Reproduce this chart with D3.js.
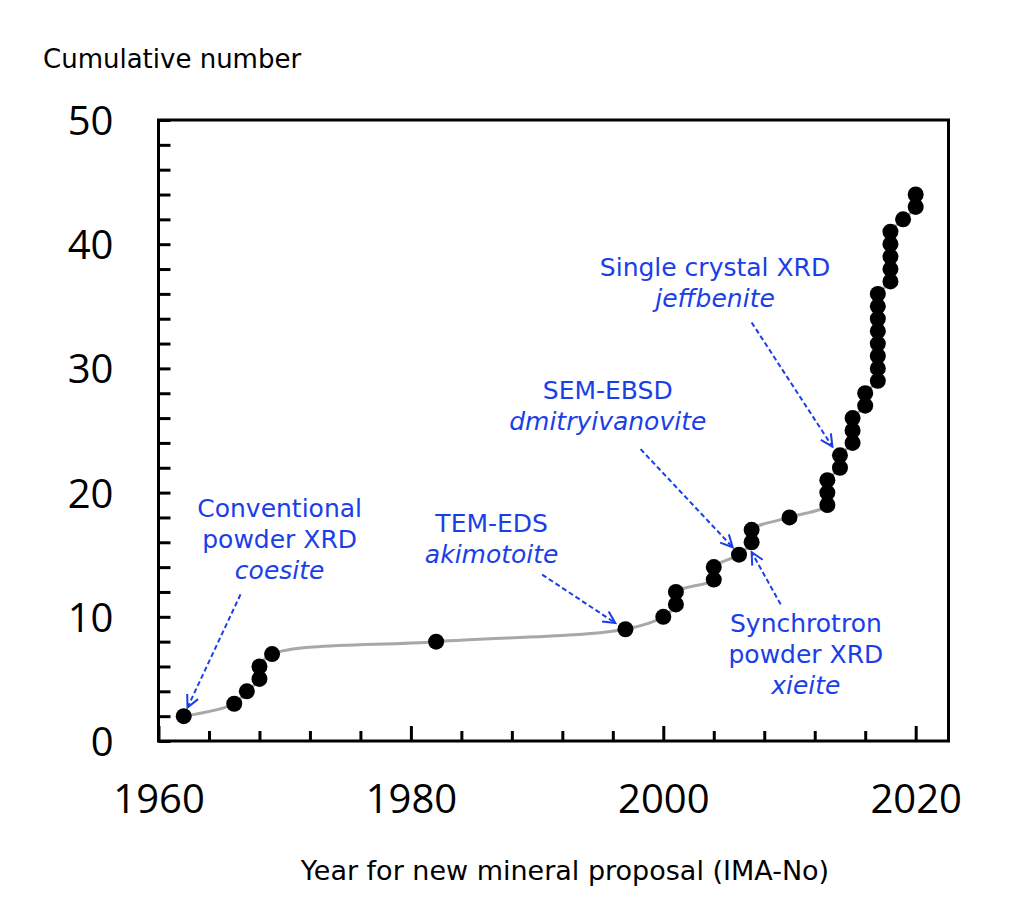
<!DOCTYPE html>
<html>
<head>
<meta charset="utf-8">
<script src="https://cdn.jsdelivr.net/npm/d3@7"></script>
<style>
  body { margin: 0; background: #fff; }
  svg { display: block; }
</style>
</head>
<body>
<svg id="chart" width="1016" height="921"></svg>
<script>
// one dot per new mineral, in order of IMA proposal year
var years = [1962, 1966, 1967, 1968, 1968, 1969, 1982, 1997, 2000, 2001, 2001,
  2004, 2004, 2006, 2007, 2007, 2010, 2013, 2013, 2013, 2014, 2014,
  2015, 2015, 2015, 2016, 2016,
  2017, 2017, 2017, 2017, 2017, 2017, 2017, 2017,
  2018, 2018, 2018, 2018, 2018, 2019, 2020, 2020];
var counts = [2, 3, 4, 5, 6, 7, 8, 9, 10, 11, 12,
  13, 14, 15, 16, 17, 18, 19, 20, 21, 22, 23,
  24, 25, 26, 27, 28,
  29, 30, 31, 32, 33, 34, 35, 36,
  37, 38, 39, 40, 41, 42, 43, 44];

var xMajor = [1960, 1980, 2000, 2020];
var xMinor = [1964, 1968, 1972, 1976, 1984, 1988, 1992, 1996, 2004, 2008, 2012, 2016];
var yMajor = [0, 10, 20, 30, 40, 50];
var yMinor = [2, 4, 6, 8, 12, 14, 16, 18, 22, 24, 26, 28, 32, 34, 36, 38, 42, 44, 46, 48];

// method labels: x = year, y = value of first baseline
var notes = [
  {x: 1969.6, y: 18.0, lines: ["Conventional", "powder XRD", "coesite"], from: [1966.5, 11.8], to: [1962.3, 2.7]},
  {x: 1986.4, y: 16.8, lines: ["TEM-EDS", "akimotoite"], from: [1990.4, 13.4], to: [1996.2, 9.5]},
  {x: 1995.6, y: 27.5, lines: ["SEM-EBSD", "dmitryivanovite"], from: [1998.2, 23.5], to: [2005.5, 15.6]},
  {x: 2004.1, y: 37.4, lines: ["Single crystal XRD", "jeffbenite"], from: [2007.0, 33.7], to: [2013.4, 23.7]},
  {x: 2011.3, y: 8.8, lines: ["Synchrotron", "powder XRD", "xieite"], from: [2009.3, 11.0], to: [2007.0, 15.2]}
];

var blue = "#1a3ee8";
var plotL = 158.5, plotR = 948.5, plotT = 120, plotB = 741;

var svg = d3.select("#chart");

var x = d3.scaleLinear().domain([1960, 2022.6]).range([plotL, plotR]);
var y = d3.scaleLinear().domain([0, 50]).range([plotB, plotT]);

var data = years.map(function (d, i) { return {year: d, n: counts[i]}; });

var line = d3.line()
  .x(function (d) { return x(d.year); })
  .y(function (d) { return y(d.n); })
  .curve(d3.curveCatmullRom.alpha(0.5));

svg.append("path")
  .datum(data)
  .attr("d", line)
  .attr("fill", "none")
  .attr("stroke", "#a8a8a8")
  .attr("stroke-width", 3);

svg.append("g").selectAll("circle")
  .data(data)
  .enter().append("circle")
  .attr("cx", function (d) { return x(d.year); })
  .attr("cy", function (d) { return y(d.n); })
  .attr("r", 8)
  .attr("fill", "#000");

// axes, ticks pointing inwards
var tickFont = "'Open Sans', 'Noto Sans', sans-serif";

var gx1 = svg.append("g").attr("transform", "translate(0," + plotB + ")")
  .call(d3.axisBottom(x).tickValues(xMinor).tickSize(-10).tickFormat(""));
var gx2 = svg.append("g").attr("transform", "translate(0," + plotB + ")")
  .call(d3.axisBottom(x).tickValues(xMajor).tickSize(-15).tickFormat(d3.format("d")));
gx2.selectAll("text")
  .attr("y", 72).attr("dy", null)
  .style("font-family", tickFont).style("font-size", "40px").attr("fill", "#000");

var gy1 = svg.append("g").attr("transform", "translate(" + plotL + ",0)")
  .call(d3.axisLeft(y).tickValues(yMinor).tickSize(-12).tickFormat(""));
var gy2 = svg.append("g").attr("transform", "translate(" + plotL + ",0)")
  .call(d3.axisLeft(y).tickValues(yMajor).tickSize(-12).tickPadding(45));
gy2.selectAll("text")
  .attr("dy", "0.36em")
  .style("font-family", tickFont).style("font-size", "40px").attr("fill", "#000");

[gx1, gx2, gy1, gy2].forEach(function (g) {
  g.select(".domain").remove();
  g.selectAll("line").attr("stroke", "#000").attr("stroke-width", 3);
});

svg.append("rect")
  .attr("x", plotL).attr("y", plotT)
  .attr("width", plotR - plotL).attr("height", plotB - plotT)
  .attr("fill", "none").attr("stroke", "#000").attr("stroke-width", 3);

// axis titles
svg.append("text")
  .attr("x", 43).attr("y", 68)
  .style("font-family", "'DejaVu Sans', sans-serif").style("font-size", "26px")
  .text("Cumulative number");

svg.append("text")
  .attr("x", 565).attr("y", 880).attr("text-anchor", "middle")
  .style("font-family", "'DejaVu Sans', sans-serif").style("font-size", "27px")
  .text("Year for new mineral proposal (IMA-No)");

// annotations
svg.append("defs").append("marker")
  .attr("id", "head")
  .attr("viewBox", "-14 -8 16 16")
  .attr("refX", 0).attr("refY", 0)
  .attr("markerWidth", 16).attr("markerHeight", 16)
  .attr("markerUnits", "userSpaceOnUse")
  .attr("orient", "auto")
  .append("path")
  .attr("d", "M-12,-6L0,0L-12,6")
  .attr("fill", "none").attr("stroke", blue).attr("stroke-width", 2);

var note = svg.append("g").selectAll("g")
  .data(notes)
  .enter().append("g");

note.append("line")
  .attr("x1", function (d) { return x(d.from[0]); })
  .attr("y1", function (d) { return y(d.from[1]); })
  .attr("x2", function (d) { return x(d.to[0]); })
  .attr("y2", function (d) { return y(d.to[1]); })
  .attr("stroke", blue).attr("stroke-width", 2)
  .attr("stroke-dasharray", "5,3")
  .attr("marker-end", "url(#head)");

note.each(function (d) {
  var g = d3.select(this);
  d.lines.forEach(function (t, i) {
    var last = i == d.lines.length - 1;
    g.append("text")
      .attr("x", x(d.x))
      .attr("y", y(d.y) + i * 31)
      .attr("text-anchor", "middle")
      .attr("fill", blue)
      .style("font-family", "'DejaVu Sans', sans-serif")
      .style("font-size", "25px")
      .style("font-style", last ? "italic" : "normal")
      .text(t);
  });
});
</script>
</body>
</html>
